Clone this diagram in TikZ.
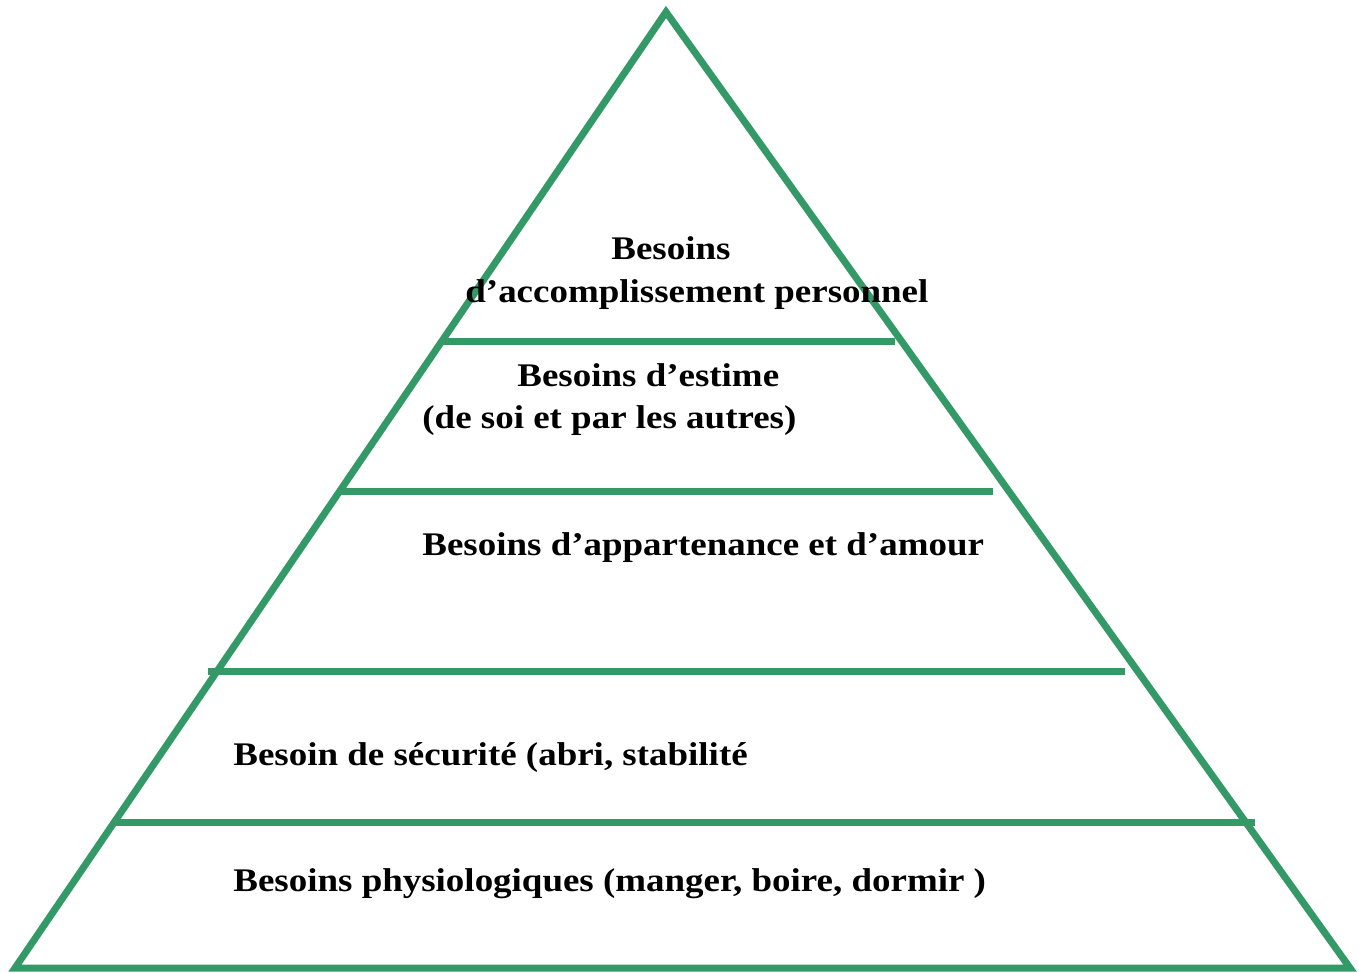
\documentclass[tikz,border=0pt]{standalone}
\usepackage{fontspec}
\setmainfont{Liberation Serif}
\newfontfamily\widefont[FakeStretch=1.12]{Liberation Serif}
\definecolor{pyrgreen}{RGB}{51,153,102}
\begin{document}
\begin{tikzpicture}[x=0.5pt,y=-0.5pt,
  edge/.style={draw=pyrgreen,line width=3.5pt},
  lbl/.style={inner sep=0pt,anchor=base west,font=\fontsize{16.5}{20}\selectfont\widefont\bfseries}]
\useasboundingbox (0,0) rectangle (1359,973);
\coordinate (apex) at (666,12);
\coordinate (bl) at (15,968);
\coordinate (br) at (1350,968);
\draw[edge,line join=miter] (apex) -- (br) -- (bl) -- cycle;
\coordinate (a1) at (440,341); \coordinate (b1) at (895,341);
\coordinate (a2) at (340,491); \coordinate (b2) at (993,491);
\coordinate (a3) at (208,671); \coordinate (b3) at (1125,671);
\coordinate (a4) at (112,822); \coordinate (b4) at (1255,822);
\draw[edge] (a1) -- (b1);
\draw[edge] (a2) -- (b2);
\draw[edge] (a3) -- (b3);
\draw[edge] (a4) -- (b4);
\node[lbl] (t1) at (611,260) {Besoins};
\node[lbl] (t2) at (465,302) {d’accomplissement personnel};
\node[lbl] (t3) at (517,386) {Besoins d’estime};
\node[lbl] (t4) at (422,428) {(de soi et par les autres)};
\node[lbl] (t5) at (422,555) {Besoins d’appartenance et d’amour};
\node[lbl] (t6) at (233,765) {Besoin de sécurité (abri, stabilité};
\node[lbl] (t7) at (233,891) {Besoins physiologiques (manger, boire, dormir )};
\end{tikzpicture}
\end{document}
